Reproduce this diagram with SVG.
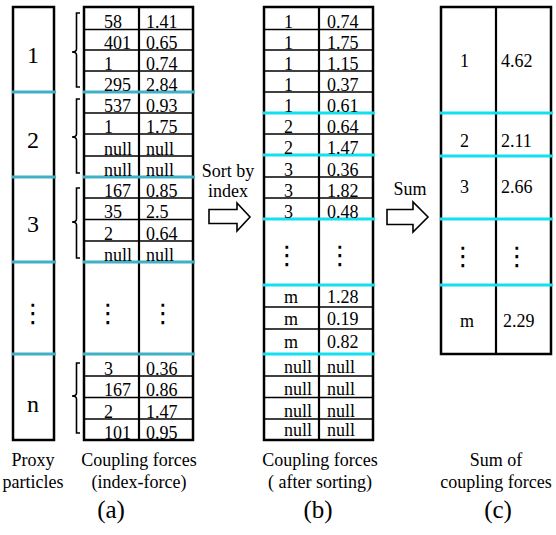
<svg xmlns="http://www.w3.org/2000/svg" width="556" height="535" viewBox="0 0 556 535" font-family="'Liberation Serif', 'DejaVu Serif', serif">
  <style>
    text { font-family: 'Liberation Serif', 'DejaVu Serif', serif; fill: #000; }
    .cell { font-size: 18px; }
    .big { font-size: 24px; text-anchor: middle; }
    .cap { font-size: 18px; text-anchor: middle; }
    .tag { font-size: 25px; text-anchor: middle; }
    .dots { font-family: 'DejaVu Sans', sans-serif; font-size: 26px; text-anchor: middle; }
    .frame { fill: #fff; stroke: #000; stroke-width: 2.5; }
    .rule { stroke: #000; stroke-width: 1.5; }
    .mid { stroke: #000; stroke-width: 2.2; }
    .sepA { stroke: #3fb0c6; stroke-width: 3; }
    .sepB { stroke: #12e0f0; stroke-width: 3; }
    .brace { fill: none; stroke: #000; stroke-width: 1.6; }
    .block { fill: #fff; stroke: #000; stroke-width: 1.6; stroke-linejoin: miter; }
  </style>

  <!-- proxy particle column -->
  <g id="proxy-particles">
    <rect class="frame" x="13" y="7" width="41" height="433"/>
    <line class="sepA" x1="12" y1="92" x2="56" y2="92"/>
    <line class="sepA" x1="12" y1="177" x2="56" y2="177"/>
    <line class="sepA" x1="12" y1="262" x2="56" y2="262"/>
    <line class="sepA" x1="12" y1="354" x2="56" y2="354"/>
    <text class="big" x="33" y="63">1</text>
    <text class="big" x="33" y="148">2</text>
    <text class="big" x="33" y="232">3</text>
    <text class="dots" x="33" y="322">⋮</text>
    <text class="big" x="33" y="412">n</text>
  </g>

  <!-- table (a): index-force pairs per particle -->
  <g id="table-a">
    <rect class="frame" x="84" y="7" width="109" height="433"/>
    <g class="rule">
      <line x1="84" y1="29.5" x2="193" y2="29.5"/>
      <line x1="84" y1="50" x2="193" y2="50"/>
      <line x1="84" y1="71" x2="193" y2="71"/>
      <line x1="84" y1="113" x2="193" y2="113"/>
      <line x1="84" y1="134" x2="193" y2="134"/>
      <line x1="84" y1="156" x2="193" y2="156"/>
      <line x1="84" y1="198" x2="193" y2="198"/>
      <line x1="84" y1="219.5" x2="193" y2="219.5"/>
      <line x1="84" y1="241" x2="193" y2="241"/>
      <line x1="84" y1="376" x2="193" y2="376"/>
      <line x1="84" y1="397.5" x2="193" y2="397.5"/>
      <line x1="84" y1="419" x2="193" y2="419"/>
    </g>
    <line class="mid" x1="139" y1="7" x2="139" y2="440"/>
    <line class="sepA" x1="83" y1="92" x2="195" y2="92"/>
    <line class="sepA" x1="83" y1="177" x2="195" y2="177"/>
    <line class="sepA" x1="83" y1="262" x2="195" y2="262"/>
    <line class="sepA" x1="83" y1="354" x2="195" y2="354"/>
    <g class="cell">
      <text x="104" y="28">58</text><text x="146" y="28">1.41</text>
      <text x="104" y="48.5">401</text><text x="146" y="48.5">0.65</text>
      <text x="104" y="69.5">1</text><text x="146" y="69.5">0.74</text>
      <text x="104" y="90.5">295</text><text x="146" y="90.5">2.84</text>
      <text x="104" y="111.5">537</text><text x="146" y="111.5">0.93</text>
      <text x="104" y="132.5">1</text><text x="146" y="132.5">1.75</text>
      <text x="104" y="154.5">null</text><text x="146" y="154.5">null</text>
      <text x="104" y="175.5">null</text><text x="146" y="175.5">null</text>
      <text x="104" y="196.5">167</text><text x="146" y="196.5">0.85</text>
      <text x="104" y="218">35</text><text x="146" y="218">2.5</text>
      <text x="104" y="239.5">2</text><text x="146" y="239.5">0.64</text>
      <text x="104" y="260.5">null</text><text x="146" y="260.5">null</text>
      <text x="104" y="375">3</text><text x="146" y="375">0.36</text>
      <text x="104" y="396">167</text><text x="146" y="396">0.86</text>
      <text x="104" y="417.5">2</text><text x="146" y="417.5">1.47</text>
      <text x="104" y="438.5">101</text><text x="146" y="438.5">0.95</text>
    </g>
    <text class="dots" x="108" y="322">⋮</text>
    <text class="dots" x="163" y="322">⋮</text>
  </g>

  <!-- table (b): pairs sorted by index -->
  <g id="table-b">
    <rect class="frame" x="264" y="7" width="109" height="433"/>
    <g class="rule">
      <line x1="264" y1="29.5" x2="373" y2="29.5"/>
      <line x1="264" y1="50" x2="373" y2="50"/>
      <line x1="264" y1="71" x2="373" y2="71"/>
      <line x1="264" y1="92" x2="373" y2="92"/>
      <line x1="264" y1="134" x2="373" y2="134"/>
      <line x1="264" y1="177" x2="373" y2="177"/>
      <line x1="264" y1="198" x2="373" y2="198"/>
      <line x1="264" y1="307" x2="373" y2="307"/>
      <line x1="264" y1="329" x2="373" y2="329"/>
      <line x1="264" y1="376" x2="373" y2="376"/>
      <line x1="264" y1="397.5" x2="373" y2="397.5"/>
      <line x1="264" y1="419" x2="373" y2="419"/>
    </g>
    <line class="mid" x1="319" y1="7" x2="319" y2="440"/>
    <line class="sepB" x1="263" y1="113" x2="375" y2="113"/>
    <line class="sepB" x1="263" y1="155" x2="375" y2="155"/>
    <line class="sepB" x1="263" y1="219" x2="375" y2="219"/>
    <line class="sepB" x1="263" y1="285" x2="375" y2="285"/>
    <line class="sepB" x1="263" y1="354" x2="375" y2="354"/>
    <g class="cell">
      <text x="284" y="28">1</text><text x="327" y="28">0.74</text>
      <text x="284" y="48.5">1</text><text x="327" y="48.5">1.75</text>
      <text x="284" y="69.5">1</text><text x="327" y="69.5">1.15</text>
      <text x="284" y="90.5">1</text><text x="327" y="90.5">0.37</text>
      <text x="284" y="111.5">1</text><text x="327" y="111.5">0.61</text>
      <text x="284" y="132.5">2</text><text x="327" y="132.5">0.64</text>
      <text x="284" y="153.5">2</text><text x="327" y="153.5">1.47</text>
      <text x="284" y="175.5">3</text><text x="327" y="175.5">0.36</text>
      <text x="284" y="196.5">3</text><text x="327" y="196.5">1.82</text>
      <text x="284" y="217.5">3</text><text x="327" y="217.5">0.48</text>
      <text x="284" y="303">m</text><text x="327" y="303">1.28</text>
      <text x="284" y="325">m</text><text x="327" y="325">0.19</text>
      <text x="284" y="348">m</text><text x="327" y="348">0.82</text>
      <text x="284" y="373">null</text><text x="327" y="373">null</text>
      <text x="284" y="395">null</text><text x="327" y="395">null</text>
      <text x="284" y="416.5">null</text><text x="327" y="416.5">null</text>
      <text x="284" y="436">null</text><text x="327" y="436">null</text>
    </g>
    <text class="dots" x="287" y="264">⋮</text>
    <text class="dots" x="340" y="264">⋮</text>
  </g>

  <!-- table (c): summed force per index -->
  <g id="table-c">
    <rect class="frame" x="441" y="7" width="110" height="347"/>
    <line class="mid" x1="496" y1="7" x2="496" y2="354"/>
    <line class="sepB" x1="440" y1="113" x2="553" y2="113"/>
    <line class="sepB" x1="440" y1="156" x2="553" y2="156"/>
    <line class="sepB" x1="440" y1="219" x2="553" y2="219"/>
    <line class="sepB" x1="440" y1="285" x2="553" y2="285"/>
    <g class="cell">
      <text x="460" y="67">1</text><text x="501" y="67">4.62</text>
      <text x="460" y="147">2</text><text x="501" y="147">2.11</text>
      <text x="460" y="193">3</text><text x="501" y="193">2.66</text>
      <text x="460" y="327">m</text><text x="503" y="327">2.29</text>
    </g>
    <text class="dots" x="463" y="265">⋮</text>
    <text class="dots" x="517" y="265">⋮</text>
  </g>

  <!-- connectors: grouping braces and block arrows -->
  <g id="connectors">
    <path class="brace" d="M80,13 H76.5 V49 Q76.5,52 72,52 Q76.5,52 76.5,55 V87 H80"/>
    <path class="brace" d="M80,99 H76.5 V134 Q76.5,137 72,137 Q76.5,137 76.5,140 V173 H80"/>
    <path class="brace" d="M80,188 H76.5 V219 Q76.5,222 72,222 Q76.5,222 76.5,225 V258 H80"/>
    <path class="brace" d="M80,363 H76.5 V393 Q76.5,396 72,396 Q76.5,396 76.5,399 V433 H80"/>

    <g id="sort-arrow">
      <text class="cap" x="228" y="177">Sort by</text>
      <text class="cap" x="228" y="197">index</text>
      <polygon class="block" points="209,209.5 237,209.5 237,203 250,217 237,231 237,223.5 209,223.5"/>
    </g>
    <g id="sum-arrow">
      <text class="cap" x="410" y="195">Sum</text>
      <polygon class="block" points="387,209.5 413,209.5 413,202 428,217 413,232 413,224.5 387,224.5"/>
    </g>
  </g>

  <!-- captions -->
  <g id="captions">
    <text class="cap" x="33" y="466">Proxy</text>
    <text class="cap" x="33" y="488">particles</text>
    <text class="cap" x="139" y="466">Coupling forces</text>
    <text class="cap" x="139" y="488">(index-force)</text>
    <text class="tag" x="111" y="518">(a)</text>
    <text class="cap" x="320" y="466">Coupling forces</text>
    <text class="cap" x="320" y="488">( after sorting)</text>
    <text class="tag" x="318" y="518">(b)</text>
    <text class="cap" x="496" y="466">Sum of</text>
    <text class="cap" x="496" y="488">coupling forces</text>
    <text class="tag" x="498" y="518">(c)</text>
  </g>
</svg>
